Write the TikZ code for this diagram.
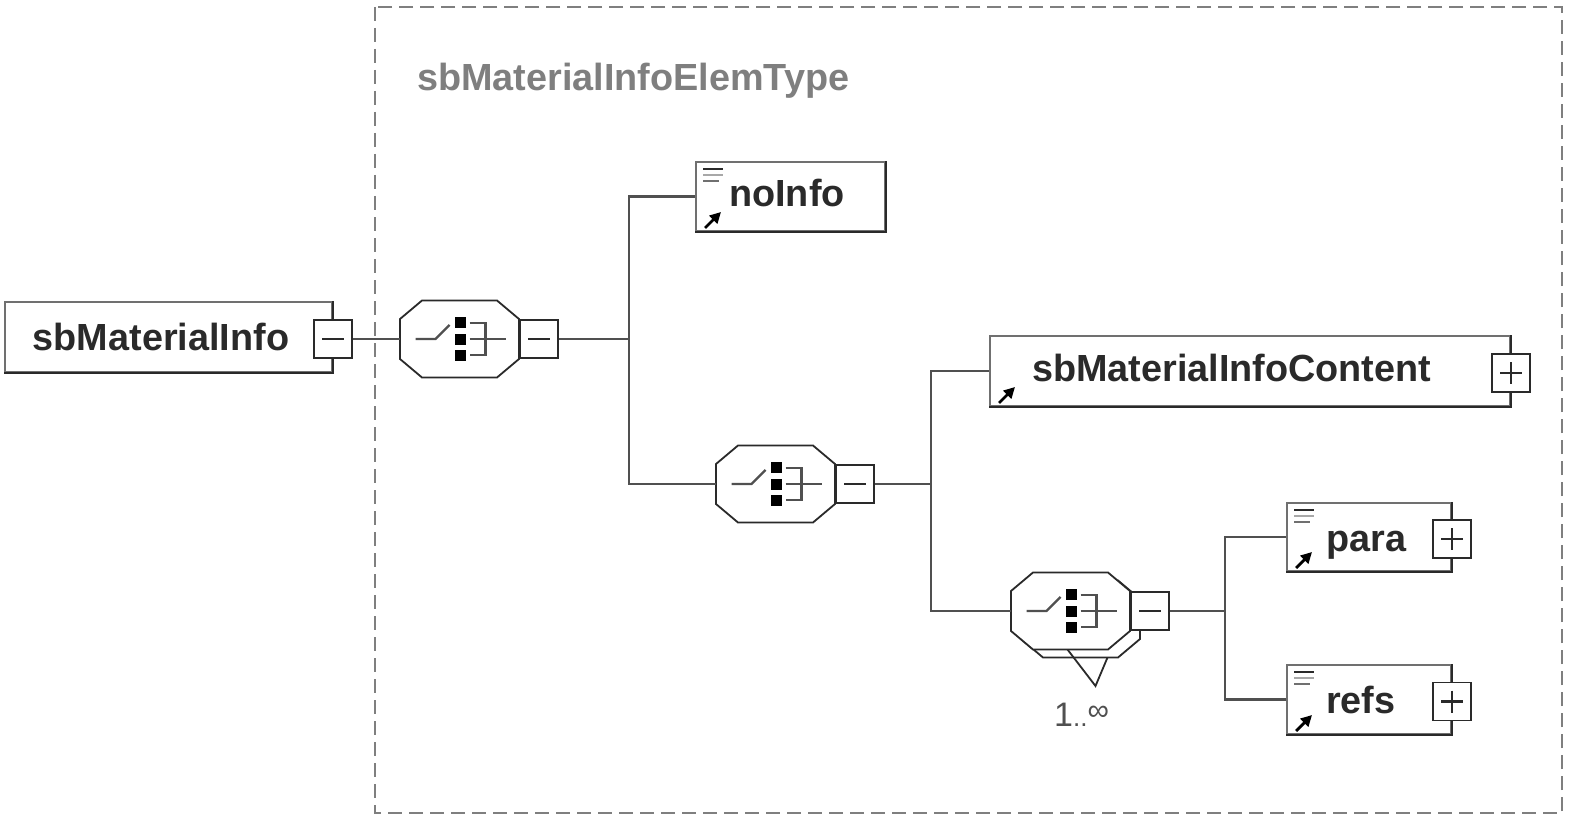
\documentclass[tikz,border=0pt]{standalone}
\usepackage{fontspec}
\setmainfont{Liberation Sans}
\usetikzlibrary{arrows.meta,calc}
\definecolor{lineC}{HTML}{505050}
\definecolor{boxC}{HTML}{707070}
\definecolor{darkC}{HTML}{2A2A2A}
\definecolor{titleC}{HTML}{7F7F7F}
\definecolor{lightC}{HTML}{A8A8A8}
\tikzset{
  conn/.style={draw=lineC, line width=2.5pt},
  elembox/.style={draw=boxC, line width=2pt, fill=white, inner sep=0pt, rectangle},
  pmbox/.style={draw=darkC, line width=1.8pt, fill=white, minimum width=38pt, minimum height=38pt, inner sep=0pt},
  octo/.style={draw=darkC, line width=1.8pt, fill=white},
  lbl/.style={font=\fontsize{37.8}{44}\selectfont\bfseries, text=darkC, inner sep=0pt},
  sym/.style={draw=lineC, line width=2.2pt},
}
\newcommand\choicegrp[4]{%
  \begin{scope}[shift={(#2,#3)}]
    #4
    \draw[octo] (-59.5,-20) -- (-37.5,-38.5) -- (37.5,-38.5) -- (59.5,-20) -- (59.5,20) -- (37.5,38.5) -- (-37.5,38.5) -- (-59.5,20) -- cycle;
    \node[minimum width=119pt, minimum height=77pt, inner sep=0pt] (#1) at (0,0) {};
    \draw[sym] (-44,0) -- (-24,0) -- (-10,-14);
    \fill[black] (-5,-22) rectangle (6,-11);
    \fill[black] (-5,-5.5) rectangle (6,5.5);
    \fill[black] (-5,11) rectangle (6,22);
    \draw[sym] (10,-16) -- (26,-16) -- (26,16) -- (10,16);
    \draw[sym] (10,0) -- (46,0);
    \node[pmbox, anchor=west] (#1m) at (#1.east) {};
    \draw[line width=2.6pt, darkC] ($(#1m.center)+(-11,0)$) -- ($(#1m.center)+(11,0)$);
  \end{scope}}
\newcommand\shadowed[1]{\draw[darkC, line width=2.4pt] (#1.south west) -- (#1.south east) -- (#1.north east);}
\newcommand\txticon[1]{%
  \draw[darkC, line width=1.8pt] ($(#1.north west)+(8,8)$) -- ++(20,0);
  \draw[lightC, line width=2.8pt] ($(#1.north west)+(8,14)$) -- ++(20,0);
  \draw[boxC, line width=1.8pt] ($(#1.north west)+(8,20)$) -- ++(16,0);}
\newcommand\reficon[1]{%
  \draw[black, line width=2.8pt, -{Triangle[length=11pt,width=11pt]}] ($(#1.south west)+(10,-4)$) -- ++(16,-16);}
\newcommand\plusbox[2]{%
  \node[pmbox] (#2) at ($(#1.east)+(0,2)$) {};
  \draw[line width=2.6pt, darkC] ($(#2.center)+(-11,0)$) -- ($(#2.center)+(11,0)$);
  \draw[line width=2.6pt, darkC] ($(#2.center)+(0,-11)$) -- ($(#2.center)+(0,11)$);}
\begin{document}
\begin{tikzpicture}[x=1pt,y=-1pt]
  \useasboundingbox (0,0) rectangle (1573,821);
  \fill[white] (0,0) rectangle (1573,821);
  % frame
  \draw[draw=titleC, line width=1.8pt, dash pattern=on 14pt off 7pt] (375,7) rectangle (1562,813);
  \node[lbl, text=titleC, anchor=base west] (title) at (417,91) {sbMaterialInfoElemType};

  % root element
  \node[elembox, minimum width=327pt, minimum height=70pt] (mi) at (168.5,337) {};
  \shadowed{mi}
  \node[lbl, anchor=base] (mit) at (161,350) {sbMaterialInfo};
  \node[pmbox] (mim) at ($(mi.east)+(0,2)$) {};
  \draw[line width=2.6pt, darkC] ($(mim.center)+(-11,0)$) -- ($(mim.center)+(11,0)$);

  % choices
  \choicegrp{c1}{459.5}{339}{}
  \choicegrp{c2}{775.5}{484}{}
  \choicegrp{c3}{1070.5}{611}{%
    \begin{scope}[shift={(10,8)}]
      \draw[octo] (-59.5,-20) -- (-37.5,-38.5) -- (37.5,-38.5) -- (59.5,-20) -- (59.5,20) -- (37.5,38.5) -- (-37.5,38.5) -- (-59.5,20) -- cycle;
    \end{scope}
    \draw[darkC, line width=1.8pt] (-3,38.5) -- (25,75) -- (37,46.5);}

  % elements
  \node[elembox, minimum width=189pt, minimum height=69pt] (noinfo) at (790.5,196.5) {};
  \shadowed{noinfo}
  \txticon{noinfo}
  \reficon{noinfo}
  \node[lbl, anchor=base west] (noinfot) at (729,206) {noInfo};

  \node[elembox, minimum width=520pt, minimum height=70pt] (smic) at (1250,371) {};
  \shadowed{smic}
  \reficon{smic}
  \node[lbl, anchor=base west] (smict) at (1032,381) {sbMaterialInfoContent};
  \plusbox{smic}{smicp}

  \node[elembox, minimum width=164pt, minimum height=68pt] (para) at (1369,537) {};
  \shadowed{para}
  \txticon{para}
  \reficon{para}
  \node[lbl, anchor=base west] (parat) at (1326,551) {para};
  \plusbox{para}{parap}

  \node[elembox, minimum width=164pt, minimum height=69pt] (refs) at (1369,699.5) {};
  \shadowed{refs}
  \txticon{refs}
  \reficon{refs}
  \node[lbl, anchor=base west] (refst) at (1326,713) {refs};
  \plusbox{refs}{refsp}

  % multiplicity
  \node[anchor=base west, text=lineC, inner sep=0pt] (mult) at (1054,726)
    {\fontsize{34}{34}\selectfont 1\fontsize{26}{26}\selectfont..\raisebox{6pt}{\fontsize{30}{30}\selectfont ∞}};

  % connectors
  \draw[conn] (mim.east) -- (c1.west);
  \draw[conn] (c1m.east) -- ++(70,0) coordinate (j1);
  \draw[conn] (j1) |- (noinfo.west);
  \draw[conn] (j1) |- (c2.west);
  \draw[conn] (c2m.east) -- ++(56,0) coordinate (j2);
  \draw[conn] (j2) |- (smic.west);
  \draw[conn] (j2) |- (c3.west);
  \draw[conn] (c3m.east) -- ++(55,0) coordinate (j3);
  \draw[conn] (j3) |- (para.west);
  \draw[conn] (j3) |- (refs.west);
\end{tikzpicture}
\end{document}
